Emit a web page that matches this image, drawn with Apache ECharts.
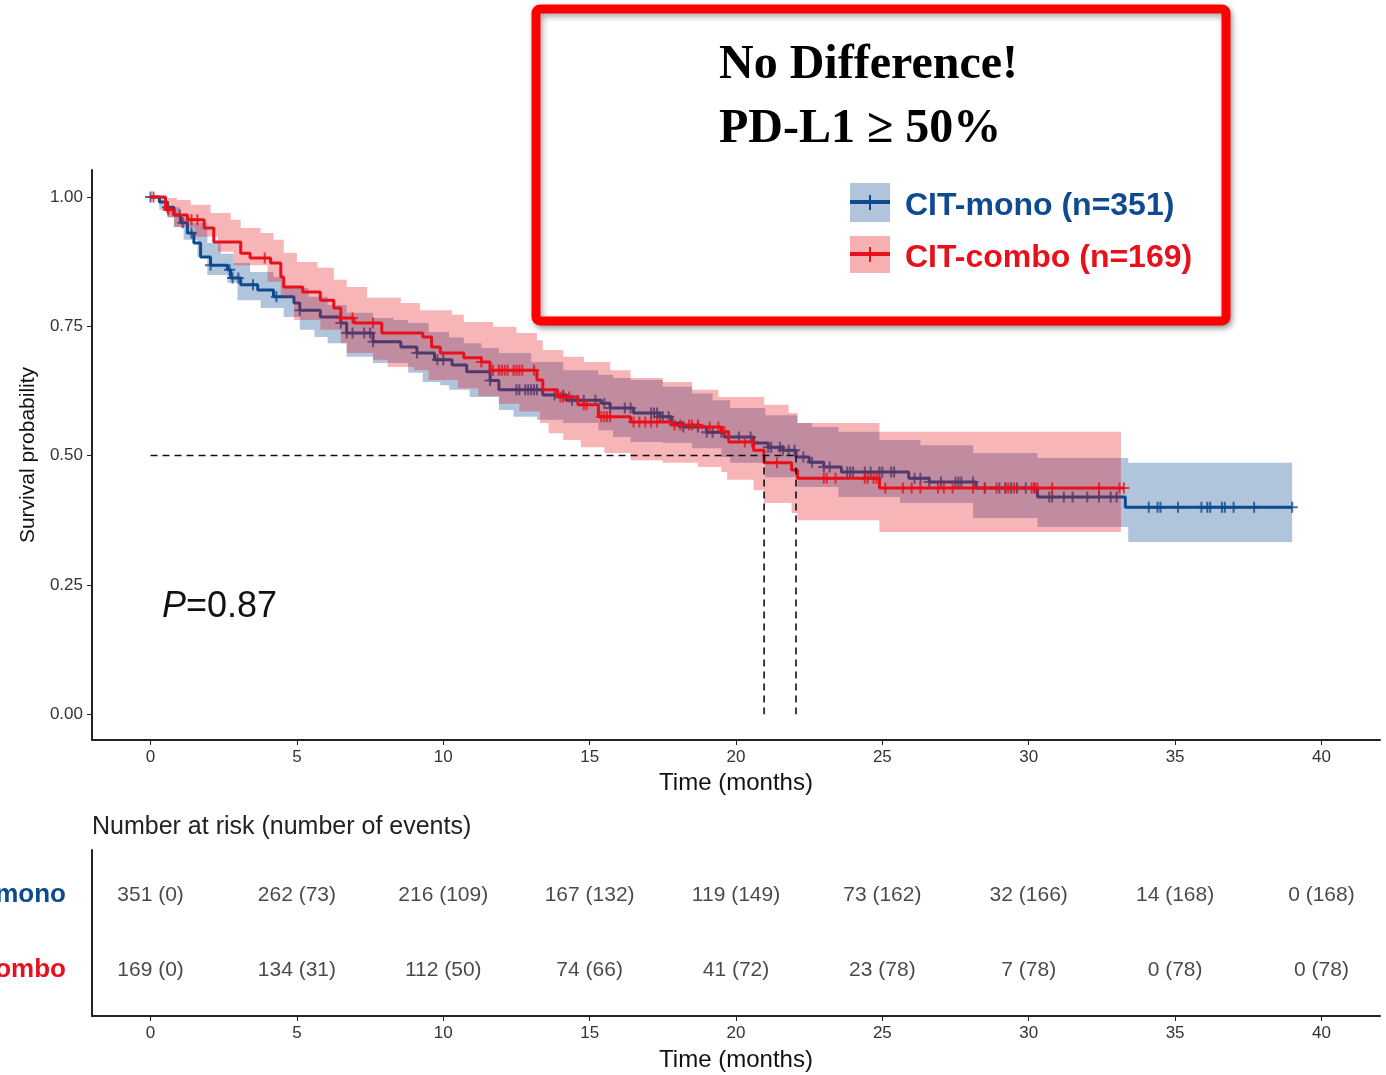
<!DOCTYPE html>
<html>
<head>
<meta charset="utf-8">
<script src="https://cdn.jsdelivr.net/npm/echarts@6/dist/echarts.min.js"></script>
<style>
  html, body { margin: 0; padding: 0; background: #fff; }
  #chart { width: 1386px; height: 1075px; }
</style>
</head>
<body>
<div id="chart"></div>
<script>
// KM 曲线：阶梯点（时间, 生存率）
const monoTimes = [0, 0.3, 0.58, 0.8, 1.03, 1.26, 1.48, 1.71, 2.05, 2.63, 2.74, 3.08, 3.66, 4.2, 4.9, 5.1, 5.8, 6.5, 6.7, 7.6, 8.55, 9.1, 9.7, 10.3, 10.8, 11.6, 11.9, 13.4, 14.2, 15.4, 15.7, 16.5, 17.4, 17.8, 18.2, 19.0, 19.6, 20.6, 21.1, 21.6, 22.05, 22.5, 23.0, 23.6, 25.9, 26.6, 28.2, 30.3, 33.3];
const monoSurv = [1.0, 0.99, 0.98, 0.965, 0.95, 0.93, 0.911, 0.884, 0.868, 0.859, 0.843, 0.83, 0.82, 0.807, 0.795, 0.781, 0.768, 0.756, 0.737, 0.72, 0.71, 0.698, 0.685, 0.675, 0.662, 0.645, 0.627, 0.617, 0.607, 0.601, 0.592, 0.582, 0.575, 0.563, 0.555, 0.545, 0.536, 0.524, 0.516, 0.51, 0.497, 0.487, 0.478, 0.468, 0.456, 0.449, 0.437, 0.42, 0.40];
const monoEnd = 39.0;
const monoCensor = [0, 0.58, 1.0, 1.1, 1.4, 2.05, 2.7, 2.8, 3.0, 3.5, 4.3, 5.1, 6.5, 6.7, 6.9, 7.3, 7.5, 7.6, 9.1, 9.8, 10.0, 11.6, 12.5, 12.6, 12.8, 12.9, 13.0, 13.1, 13.2, 13.8, 14.1, 14.4, 14.6, 14.8, 15.2, 15.5, 15.7, 16.2, 16.4, 17.1, 17.2, 17.3, 17.4, 17.5, 17.7, 18.2, 18.7, 19.0, 19.2, 19.5, 20.1, 20.5, 21.1, 21.2, 21.5, 21.6, 21.8, 22.0, 22.3, 22.6, 23.0, 23.2, 23.8, 23.9, 24.0, 24.4, 24.6, 24.9, 25.0, 25.3, 25.4, 26.1, 26.3, 26.6, 27.0, 27.5, 27.6, 27.7, 28.1, 28.5, 29.0, 29.2, 29.4, 29.6, 29.9, 30.2, 30.7, 30.8, 31.2, 31.5, 32.0, 32.4, 32.8, 33.0, 34.1, 34.4, 34.5, 35.1, 35.9, 36.1, 36.2, 36.6, 36.7, 37.0, 37.7, 39.0];

const comboTimes = [0, 0.51, 0.8, 1.26, 1.83, 2.16, 3.08, 3.4, 4.1, 4.45, 4.55, 5.2, 5.8, 6.26, 6.5, 6.95, 7.9, 9.3, 9.6, 9.9, 10.7, 11.3, 11.6, 13.2, 13.4, 13.9, 14.6, 15.3, 16.4, 17.8, 18.8, 19.5, 19.75, 20.6, 20.96, 21.9, 22.1, 24.9];
const comboSurv = [1.0, 0.975, 0.965, 0.956, 0.94, 0.913, 0.891, 0.882, 0.872, 0.845, 0.826, 0.816, 0.80, 0.785, 0.766, 0.756, 0.737, 0.729, 0.71, 0.698, 0.689, 0.681, 0.665, 0.646, 0.627, 0.613, 0.598, 0.575, 0.565, 0.559, 0.555, 0.546, 0.526, 0.51, 0.486, 0.472, 0.456, 0.437];
const comboEnd = 33.25;
const comboCensor = [0.1, 0.6, 1.4, 1.6, 3.9, 6.5, 6.9, 7.6, 11.3, 11.7, 11.9, 12.0, 12.1, 12.2, 12.4, 12.5, 12.6, 12.7, 13.1, 14.0, 14.1, 14.3, 14.8, 14.9, 15.4, 15.5, 15.6, 15.7, 16.5, 16.7, 16.9, 17.1, 17.3, 17.9, 18.1, 18.4, 18.5, 18.7, 19.1, 19.4, 19.6, 20.3, 20.55, 21.4, 23.0, 23.1, 23.4, 24.4, 24.5, 24.7, 24.8, 25.1, 25.7, 26.0, 26.3, 26.9, 27.1, 27.4, 28.1, 28.5, 28.9, 29.2, 29.3, 29.5, 30.1, 30.2, 30.3, 30.8, 32.4, 33.1, 33.25];

// 95% 置信带
const monoUpperT = [0, 0.45, 1.0, 1.37, 1.94, 2.4, 2.84, 3.4, 4.2, 4.55, 5.4, 6.05, 6.7, 7.6, 8.3, 8.8, 9.5, 10.2, 10.7, 11.3, 11.9, 13.0, 14.1, 15.3, 15.8, 16.4, 17.5, 18.5, 19.2, 19.8, 21.0, 22.1, 22.6, 23.5, 24.9, 26.3, 28.1, 30.3, 33.4];
const monoUpperV = [1.0, 0.98, 0.96, 0.95, 0.911, 0.89, 0.872, 0.855, 0.845, 0.824, 0.807, 0.791, 0.776, 0.766, 0.762, 0.756, 0.739, 0.728, 0.717, 0.708, 0.698, 0.681, 0.665, 0.656, 0.65, 0.646, 0.633, 0.62, 0.607, 0.592, 0.578, 0.563, 0.555, 0.546, 0.53, 0.52, 0.505, 0.495, 0.486];
const monoLowerT = [0, 0.3, 0.58, 0.8, 1.13, 1.6, 1.94, 2.63, 2.97, 3.76, 4.55, 5.1, 5.6, 6.05, 6.7, 7.6, 8.8, 9.3, 9.9, 10.2, 10.9, 11.9, 12.4, 13.2, 14.1, 15.3, 15.8, 16.4, 17.5, 18.5, 19.5, 19.8, 21.0, 22.1, 23.5, 25.6, 28.1, 30.3, 33.4];
const monoLowerV = [1.0, 0.975, 0.96, 0.942, 0.917, 0.884, 0.849, 0.834, 0.80, 0.785, 0.768, 0.743, 0.729, 0.717, 0.691, 0.679, 0.66, 0.642, 0.636, 0.627, 0.613, 0.588, 0.575, 0.569, 0.563, 0.549, 0.536, 0.526, 0.524, 0.514, 0.497, 0.486, 0.458, 0.439, 0.42, 0.408, 0.379, 0.362, 0.333];
const monoBandEnd = 39.0;

const comboUpperT = [0, 0.34, 0.9, 1.37, 2.05, 2.74, 3.08, 3.76, 4.2, 4.55, 5.0, 5.7, 6.26, 6.7, 7.4, 8.55, 9.2, 10.3, 10.7, 11.7, 12.5, 13.2, 13.4, 14.1, 14.8, 15.7, 16.4, 17.5, 18.5, 19.4, 20.96, 21.8, 22.1, 24.9];
const comboUpperV = [1.0, 0.998, 0.994, 0.985, 0.969, 0.956, 0.94, 0.93, 0.917, 0.892, 0.874, 0.863, 0.84, 0.826, 0.805, 0.795, 0.781, 0.772, 0.758, 0.749, 0.737, 0.723, 0.704, 0.691, 0.681, 0.665, 0.65, 0.642, 0.627, 0.613, 0.598, 0.582, 0.563, 0.546];
const comboLowerT = [0, 0.58, 0.8, 1.5, 2.3, 2.84, 4.0, 4.45, 4.9, 5.8, 6.5, 6.7, 7.6, 8.1, 9.0, 9.5, 10.5, 11.2, 11.9, 12.6, 13.3, 13.6, 14.1, 14.7, 15.5, 16.4, 17.5, 18.7, 19.5, 19.7, 20.6, 20.96, 21.9, 22.1, 24.9];
const comboLowerV = [1.0, 0.961, 0.942, 0.923, 0.894, 0.868, 0.836, 0.807, 0.762, 0.743, 0.717, 0.698, 0.685, 0.671, 0.665, 0.646, 0.63, 0.615, 0.60, 0.585, 0.563, 0.543, 0.53, 0.516, 0.505, 0.491, 0.486, 0.478, 0.468, 0.453, 0.433, 0.408, 0.389, 0.375, 0.352];
const comboBandEnd = 33.15;

// 中位生存时间
const medianMono = 22.05;
const medianCombo = 20.96;

// 风险表
const riskTimes = [0, 5, 10, 15, 20, 25, 30, 35, 40];
const monoAtRisk = [351, 262, 216, 167, 119, 73, 32, 14, 0];
const monoEvents = [0, 73, 109, 132, 149, 162, 166, 168, 168];
const comboAtRisk = [169, 134, 112, 74, 41, 23, 7, 0, 0];
const comboEvents = [0, 31, 50, 66, 72, 78, 78, 78, 78];

const xTicks = [0, 5, 10, 15, 20, 25, 30, 35, 40];
const yTicks = [0, 0.25, 0.5, 0.75, 1];

const BLUE = '#0d4a8f';
const RED = '#e8101a';
const FONT = '"Liberation Sans", Arial, sans-serif';

function stepData(times, surv, end) {
  let d = times.map((t, i) => [t, surv[i]]);
  d.push([end, surv[surv.length - 1]]);
  return d;
}

function survAt(times, surv, t) {
  let v = surv[0];
  for (let i = 0; i < times.length; i++) {
    if (times[i] <= t) v = surv[i];
  }
  return v;
}

function bandSeries(upT, upV, loT, loV, end, color, z) {
  return {
    type: 'custom',
    xAxisIndex: 0,
    yAxisIndex: 0,
    z: z,
    silent: true,
    data: [[0, 0]],
    renderItem: function(params, api) {
      let pts = [];
      for (let i = 0; i < upT.length; i++) {
        let t1 = i + 1 < upT.length ? upT[i + 1] : end;
        pts.push(api.coord([upT[i], upV[i]]));
        pts.push(api.coord([t1, upV[i]]));
      }
      for (let i = loT.length - 1; i >= 0; i--) {
        let t1 = i + 1 < loT.length ? loT[i + 1] : end;
        pts.push(api.coord([t1, loV[i]]));
        pts.push(api.coord([loT[i], loV[i]]));
      }
      return { type: 'polygon', shape: { points: pts }, style: { fill: color } };
    },
  };
}

function censorSeries(times, surv, cens, color, z) {
  return {
    type: 'scatter',
    xAxisIndex: 0,
    yAxisIndex: 0,
    z: z,
    silent: true,
    symbol: 'path://M5,0L5,10M0,5L10,5',
    symbolSize: 11,
    itemStyle: { color: 'rgba(0,0,0,0)', borderColor: color, borderWidth: 2 },
    data: cens.map(t => [t, survAt(times, surv, t)]),
  };
}

function riskSeries(atRisk, events, row) {
  return {
    type: 'scatter',
    xAxisIndex: 1,
    yAxisIndex: 1,
    symbolSize: 0,
    silent: true,
    data: riskTimes.map((t, i) => [t, row, atRisk[i] + ' (' + events[i] + ')']),
    label: {
      show: true,
      position: 'inside',
      formatter: p => p.data[2],
      color: '#1a1a1a',
      textBorderWidth: 0,
      fontSize: 21,
      fontFamily: FONT,
    },
  };
}

const axisLineStyle = { color: '#222', width: 2 };

function timeAxis(gridIndex, gap) {
  return {
    type: 'value',
    gridIndex: gridIndex,
    min: -2,
    max: 42,
    name: 'Time (months)',
    nameLocation: 'middle',
    nameGap: gap,
    nameTextStyle: { fontSize: 24, color: '#111', fontFamily: FONT },
    axisLine: { show: true, onZero: false, lineStyle: axisLineStyle },
    axisTick: { show: true, length: 5, customValues: xTicks, lineStyle: { color: '#222' } },
    axisLabel: { customValues: xTicks, fontSize: 17, color: '#333', margin: 9, fontFamily: FONT },
    splitLine: { show: false },
  };
}

let option = {
  backgroundColor: '#fff',
  animation: false,
  grid: [
    { left: 92, right: 6, top: 170, bottom: 335, containLabel: false, outerBoundsMode: 'none' },
    { left: 92, right: 6, top: 850, bottom: 59, containLabel: false, outerBoundsMode: 'none' },
  ],
  xAxis: [timeAxis(0, 31), timeAxis(1, 32)],
  yAxis: [
    {
      type: 'value',
      gridIndex: 0,
      min: -0.05,
      max: 1.052,
      name: 'Survival probability',
      nameLocation: 'middle',
      nameGap: 53,
      nameTextStyle: { fontSize: 21, color: '#111', fontFamily: FONT },
      axisLine: { show: true, onZero: false, lineStyle: axisLineStyle },
      axisTick: { show: true, length: 5, customValues: yTicks, lineStyle: { color: '#222' } },
      axisLabel: {
        customValues: yTicks,
        fontSize: 17,
        color: '#333',
        margin: 9,
        fontFamily: FONT,
        formatter: v => v.toFixed(2),
      },
      splitLine: { show: false },
    },
    {
      type: 'value',
      gridIndex: 1,
      min: 0.39,
      max: 2.6,
      axisLine: { show: true, onZero: false, lineStyle: axisLineStyle },
      axisTick: { show: false },
      axisLabel: {
        customValues: [1, 2],
        margin: 26,
        fontFamily: FONT,
        fontSize: 26,
        fontWeight: 'bold',
        formatter: v => (v === 2 ? '{m|CIT-mono}' : '{c|CIT-combo}'),
        rich: {
          m: { color: BLUE, fontSize: 26, fontWeight: 'bold', fontFamily: FONT },
          c: { color: RED, fontSize: 26, fontWeight: 'bold', fontFamily: FONT },
        },
      },
      splitLine: { show: false },
    },
  ],
  series: [
    bandSeries(monoUpperT, monoUpperV, monoLowerT, monoLowerV, monoBandEnd, 'rgba(14,76,146,0.33)', 1),
    {
      type: 'line',
      xAxisIndex: 0,
      yAxisIndex: 0,
      z: 2,
      step: 'end',
      showSymbol: false,
      silent: true,
      lineStyle: { color: BLUE, width: 3 },
      data: stepData(monoTimes, monoSurv, monoEnd),
    },
    censorSeries(monoTimes, monoSurv, monoCensor, BLUE, 2),
    bandSeries(comboUpperT, comboUpperV, comboLowerT, comboLowerV, comboBandEnd, 'rgba(232,16,26,0.31)', 3),
    {
      type: 'line',
      xAxisIndex: 0,
      yAxisIndex: 0,
      z: 4,
      step: 'end',
      showSymbol: false,
      silent: true,
      lineStyle: { color: RED, width: 3 },
      data: stepData(comboTimes, comboSurv, comboEnd),
    },
    censorSeries(comboTimes, comboSurv, comboCensor, RED, 4),
    {
      // 中位数虚线
      type: 'line',
      xAxisIndex: 0,
      yAxisIndex: 0,
      z: 5,
      silent: true,
      showSymbol: false,
      connectNulls: false,
      lineStyle: { color: '#111', width: 1.6, type: [7, 5] },
      data: [
        [0, 0.5], [medianMono, 0.5], null,
        [medianCombo, 0.5], [medianCombo, 0], null,
        [medianMono, 0.5], [medianMono, 0],
      ],
    },
    riskSeries(monoAtRisk, monoEvents, 2),
    riskSeries(comboAtRisk, comboEvents, 1),
  ],
  graphic: [
    {
      type: 'text',
      left: 162,
      top: 589,
      style: {
        text: '{i|P}=0.87',
        font: '36px ' + FONT,
        fill: '#111',
        rich: { i: { fontStyle: 'italic', fontSize: 36, fontFamily: FONT, fill: '#111' } },
      },
    },
    {
      type: 'text',
      left: 92,
      top: 815,
      style: { text: 'Number at risk (number of events)', font: '25px ' + FONT, fill: '#222' },
    },
    {
      type: 'rect',
      shape: { x: 536, y: 9, width: 690, height: 312, r: 4 },
      style: {
        fill: '#fff',
        stroke: '#ff0000',
        lineWidth: 9,
        shadowBlur: 6,
        shadowOffsetX: 2,
        shadowOffsetY: 3,
        shadowColor: 'rgba(0,0,0,0.35)',
      },
      z: 10,
    },
    {
      type: 'text',
      left: 719,
      top: 42,
      z: 11,
      style: { text: 'No Difference!', font: 'bold 48px "Liberation Serif", "Times New Roman", serif', fill: '#000' },
    },
    {
      type: 'text',
      left: 719,
      top: 106,
      z: 11,
      style: { text: 'PD-L1 ≥ 50%', font: 'bold 48px "Liberation Serif", "Times New Roman", serif', fill: '#000' },
    },
    { type: 'rect', z: 11, shape: { x: 850, y: 183, width: 40, height: 39 }, style: { fill: '#b0c4dc' } },
    { type: 'line', z: 12, shape: { x1: 850, y1: 202, x2: 890, y2: 202 }, style: { stroke: BLUE, lineWidth: 4 } },
    { type: 'line', z: 12, shape: { x1: 870, y1: 195, x2: 870, y2: 210 }, style: { stroke: BLUE, lineWidth: 2 } },
    { type: 'rect', z: 11, shape: { x: 850, y: 236, width: 40, height: 37 }, style: { fill: '#f7b0b2' } },
    { type: 'line', z: 12, shape: { x1: 850, y1: 254, x2: 890, y2: 254 }, style: { stroke: RED, lineWidth: 4 } },
    { type: 'line', z: 12, shape: { x1: 870, y1: 247, x2: 870, y2: 262 }, style: { stroke: RED, lineWidth: 2 } },
    {
      type: 'text',
      left: 905,
      top: 190,
      z: 11,
      style: { text: 'CIT-mono (n=351)', font: 'bold 32px ' + FONT, fill: BLUE },
    },
    {
      type: 'text',
      left: 905,
      top: 242,
      z: 11,
      style: { text: 'CIT-combo (n=169)', font: 'bold 32px ' + FONT, fill: RED },
    },
  ],
};

let chart = echarts.init(document.getElementById('chart'));
chart.setOption(option);
</script>
</body>
</html>
